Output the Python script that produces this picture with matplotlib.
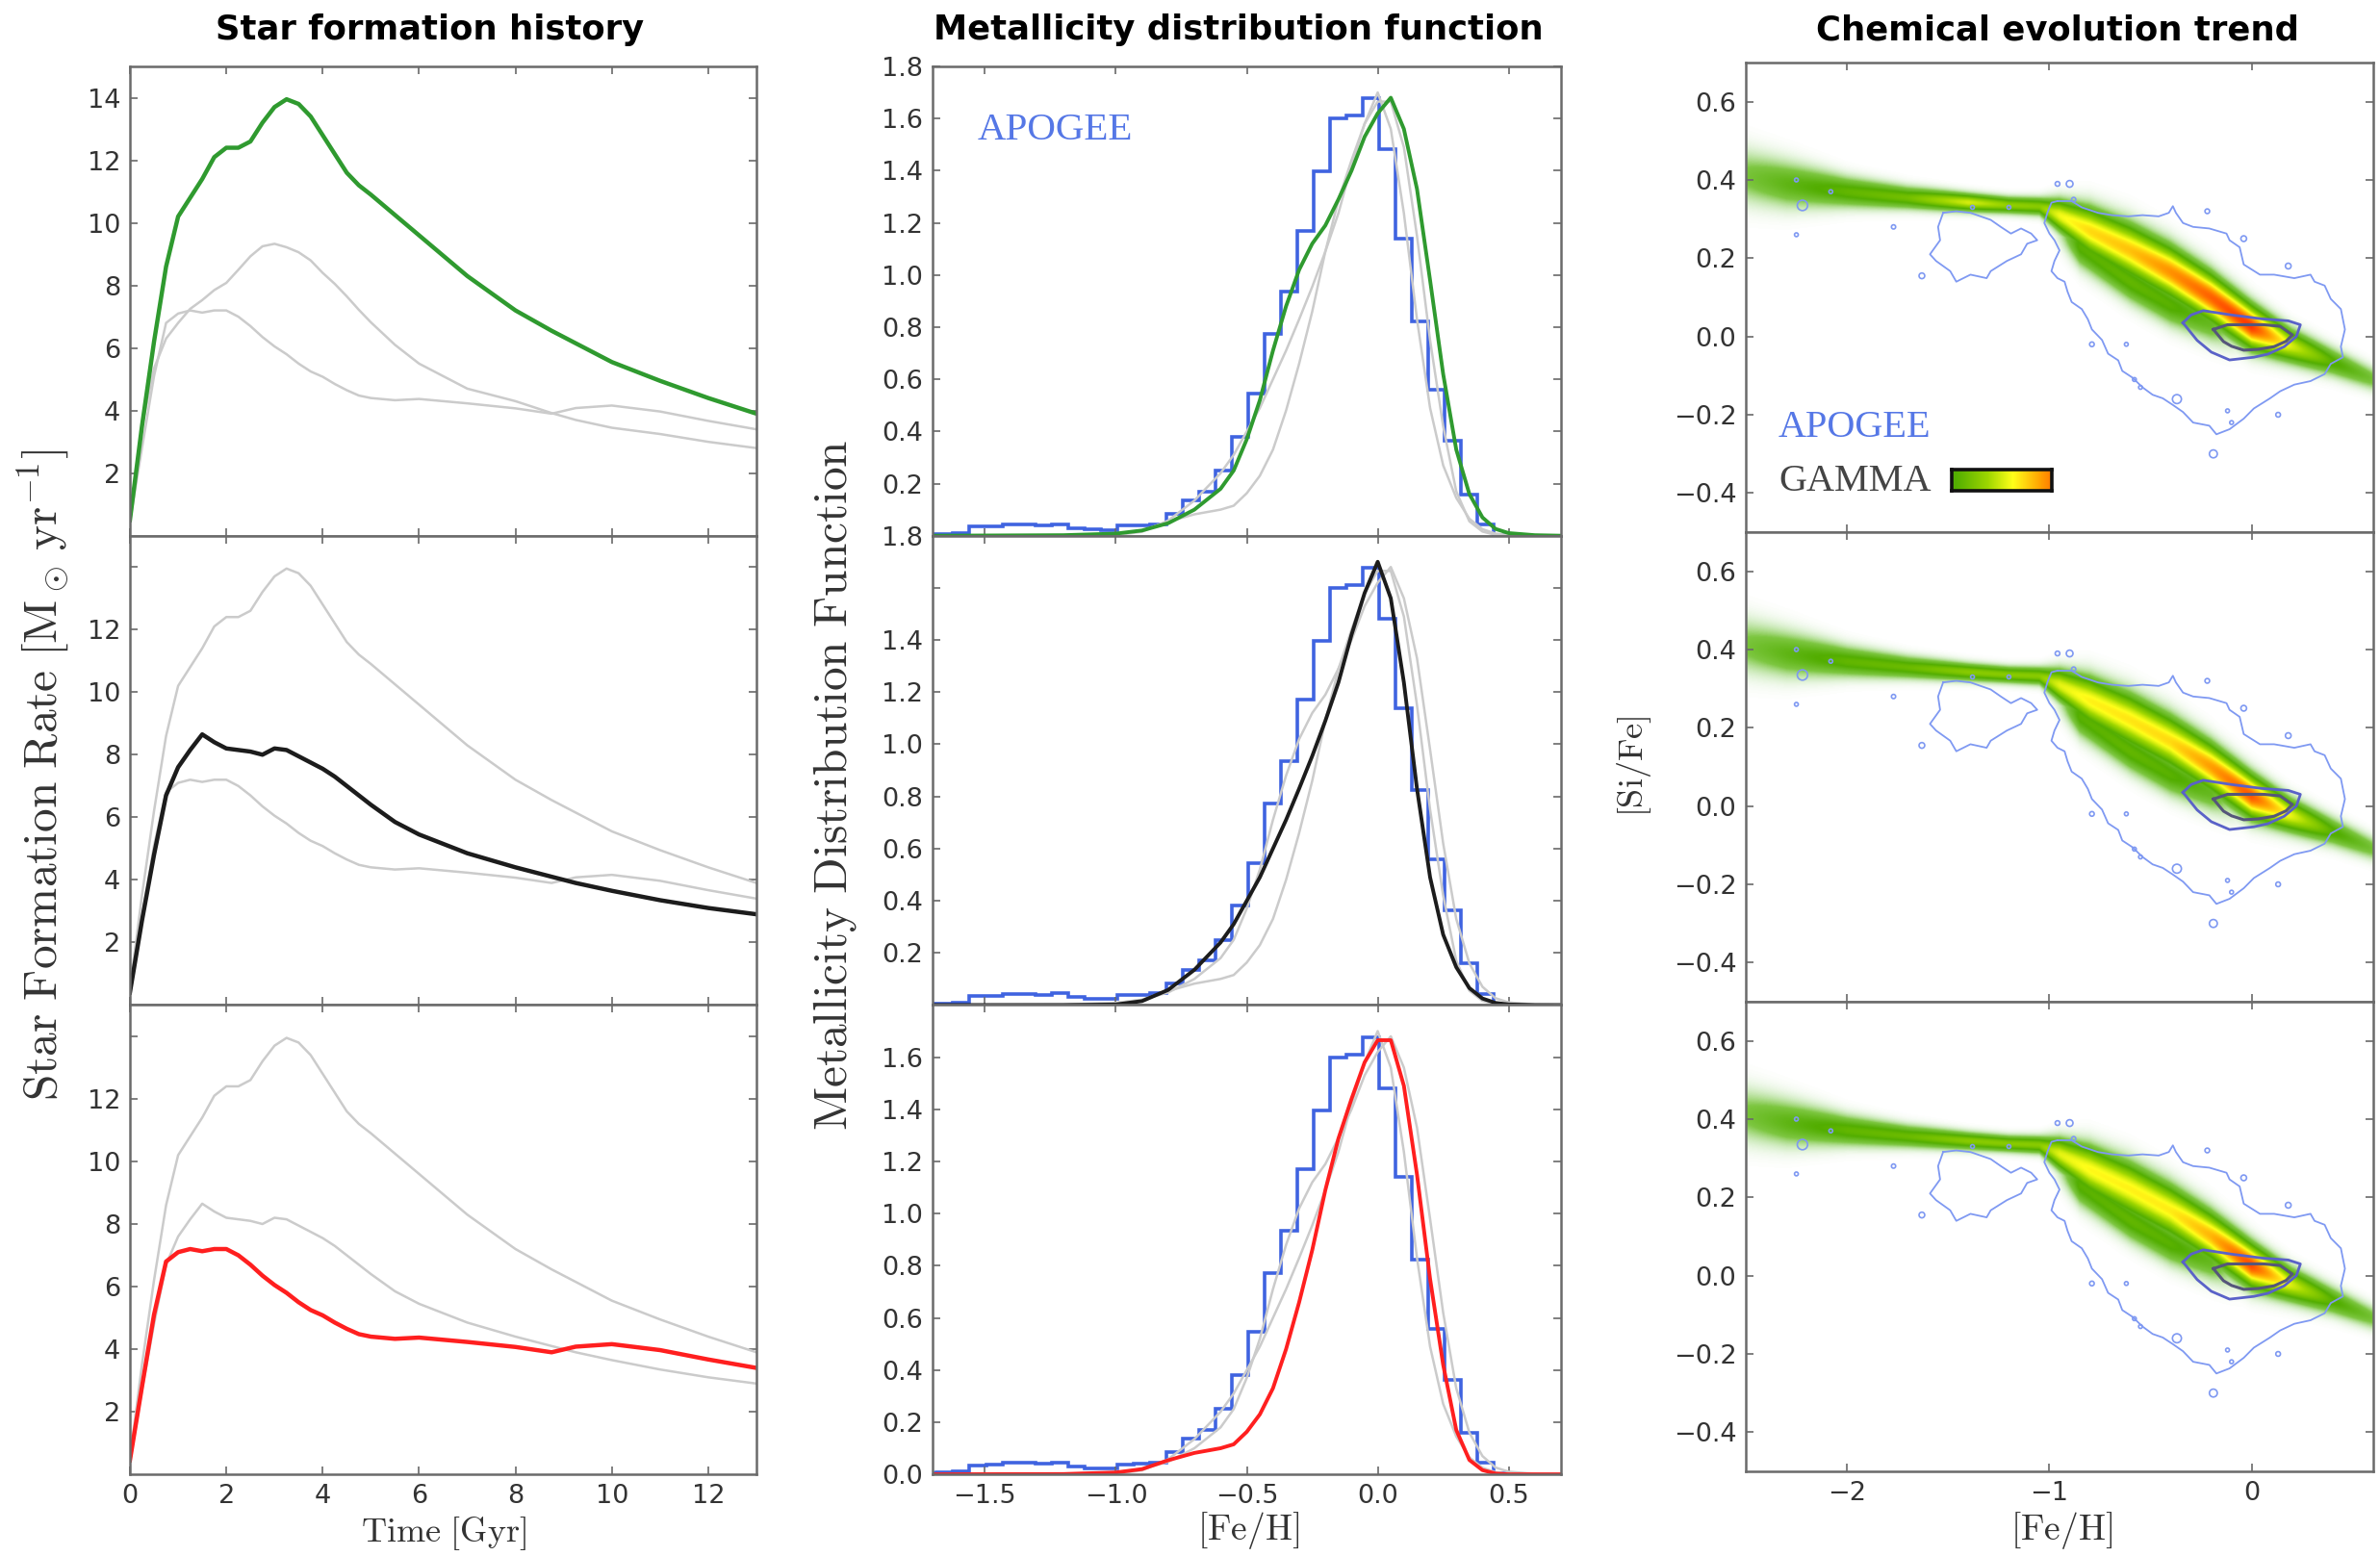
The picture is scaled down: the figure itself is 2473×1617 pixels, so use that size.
import numpy as np
import matplotlib
matplotlib.use("Agg")
import matplotlib.pyplot as plt
from matplotlib.colors import LinearSegmentedColormap

plt.rcParams["mathtext.fontset"] = "cm"
plt.rcParams["font.family"] = ["DejaVu Sans"]
plt.rcParams["axes.unicode_minus"] = True

# ---------------- Star formation history ----------------
sfh_time = [0, 0.25, 0.5, 0.75, 1.0, 1.25, 1.5, 1.75, 2.0, 2.25, 2.5, 2.75, 3.0, 3.25,
            3.5, 3.75, 4.0, 4.25, 4.5, 4.75, 5.0, 5.5, 6.0, 7.0, 8.0, 8.75, 9.25, 10.0, 11.0,
            12.0, 13.0]
sfh_green = [0.5, 3.5, 6.2, 8.6, 10.2, 10.8, 11.4, 12.1, 12.4, 12.4, 12.6, 13.2, 13.7, 13.95,
             13.8, 13.4, 12.8, 12.2, 11.6, 11.2, 10.9, 10.25, 9.6, 8.3, 7.2, 6.55, 6.15, 5.55,
             4.95, 4.4, 3.9]
sfh_black = [0.4, 2.7, 4.8, 6.7, 7.6, 8.15, 8.65, 8.4, 8.2, 8.15, 8.1, 8.0, 8.2, 8.15,
             7.95, 7.75, 7.55, 7.3, 7.0, 6.7, 6.4, 5.85, 5.45, 4.85, 4.4, 4.1, 3.9, 3.65, 3.35,
             3.1, 2.9]
sfh_red = [0.45, 2.8, 5.1, 6.8, 7.1, 7.2, 7.13, 7.2, 7.2, 7.0, 6.7, 6.35, 6.05, 5.8,
           5.5, 5.25, 5.08, 4.85, 4.65, 4.48, 4.4, 4.33, 4.37, 4.23, 4.07, 3.9, 4.08, 4.16,
           3.97, 3.67, 3.4]
sfh_alt = [0.5, 3.5, 5.35, 6.3, 6.8, 7.25, 7.53, 7.85, 8.08, 8.5, 8.93, 9.25, 9.33, 9.22,
           9.06, 8.8, 8.4, 8.05, 7.65, 7.22, 6.82, 6.1, 5.5, 4.7, 4.3, 3.92, 3.7, 3.45, 3.25,
           3.0, 2.8]
sfh_xticks = [0, 2, 4, 6, 8, 10, 12]
sfh_yticks = [2, 4, 6, 8, 10, 12, 14]

# ---------------- Metallicity distribution ----------------
mdf_feh = [-1.7, -1.2, -1.0, -0.9, -0.8, -0.7, -0.6, -0.55, -0.5, -0.45, -0.4, -0.35, -0.3,
           -0.25, -0.2, -0.15, -0.1, -0.05, 0.0, 0.05, 0.1, 0.15, 0.2, 0.25, 0.3, 0.35, 0.4,
           0.45, 0.5, 0.6, 0.7]
mdf_green = [0.0, 0.002, 0.008, 0.02, 0.048, 0.1, 0.18, 0.25, 0.37, 0.52, 0.71, 0.88, 1.02,
             1.12, 1.19, 1.29, 1.40, 1.53, 1.62, 1.68, 1.56, 1.33, 0.98, 0.62, 0.33, 0.16, 0.07,
             0.026, 0.01, 0.002, 0.0]
mdf_black = [0.0, 0.0, 0.002, 0.015, 0.058, 0.135, 0.24, 0.31, 0.40, 0.49, 0.60, 0.71, 0.83,
             0.955, 1.09, 1.237, 1.42, 1.58, 1.70, 1.56, 1.237, 0.83, 0.49, 0.27, 0.145, 0.065,
             0.025, 0.008, 0.002, 0.0, 0.0]
mdf_red = [0.0, 0.001, 0.007, 0.02, 0.054, 0.082, 0.10, 0.115, 0.163, 0.23, 0.33, 0.48, 0.66,
           0.86, 1.09, 1.288, 1.44, 1.58, 1.665, 1.665, 1.49, 1.15, 0.75, 0.42, 0.17, 0.055,
           0.016, 0.003, 0.0, 0.0, 0.0]
apogee_bin_start = -1.746
apogee_bin_width = 0.0625
apogee_mdf = [0.005, 0.007, 0.01, 0.034, 0.036, 0.043, 0.043, 0.040, 0.045, 0.030, 0.024, 0.022,
              0.038, 0.040, 0.045, 0.084, 0.136, 0.17, 0.25, 0.38, 0.545, 0.773, 0.935, 1.17,
              1.397, 1.60, 1.61, 1.677, 1.482, 1.139, 0.823, 0.559, 0.363, 0.159, 0.043, 0.003]
mdf_xticks = [-1.5, -1.0, -0.5, 0.0, 0.5]
mdf_yticks = [0.0, 0.2, 0.4, 0.6, 0.8, 1.0, 1.2, 1.4, 1.6, 1.8]

# ---------------- Chemical evolution trend ----------------
ridge_feh = [-2.6, -2.3, -2.0, -1.7, -1.4, -1.2, -1.05, -0.95, -0.8, -0.6, -0.4, -0.2, 0.0,
             0.2, 0.4, 0.65]
ridge_sife = [0.42, 0.39, 0.37, 0.355, 0.343, 0.336, 0.333, 0.31, 0.27, 0.22, 0.165, 0.10,
              0.025, -0.025, -0.065, -0.12]
ridge_sigma = [0.05, 0.04, 0.026, 0.019, 0.015, 0.014, 0.015, 0.027, 0.04, 0.044, 0.043, 0.04,
               0.036, 0.028, 0.024, 0.02]
gamma_amp = [
    [0.16, 0.28, 0.36, 0.4, 0.58, 0.47, 0.45, 0.62, 0.7, 0.74, 0.82, 0.9, 0.97, 0.58, 0.34, 0.18],
    [0.16, 0.28, 0.36, 0.38, 0.45, 0.45, 0.45, 0.6, 0.66, 0.68, 0.7, 0.8, 0.92, 0.6, 0.34, 0.18],
    [0.16, 0.28, 0.36, 0.38, 0.45, 0.45, 0.45, 0.6, 0.65, 0.66, 0.67, 0.76, 0.94, 0.58, 0.34, 0.18],
]
lower_feh = [-1.0, -0.85, -0.6, -0.4, -0.2, 0.0]
lower_sife = [0.31, 0.23, 0.14, 0.08, 0.035, -0.01]
lower_amp = [0.0, 0.34, 0.36, 0.34, 0.26, 0.0]
lower_sigma = 0.034

apogee_outer_feh = [-0.96, -0.89, -0.84, -0.76, -0.69, -0.61, -0.54, -0.46, -0.41, -0.39, -0.375,
                    -0.34, -0.29, -0.21, -0.125, -0.11, -0.06, -0.04, 0.04, 0.11, 0.21, 0.29, 0.31,
                    0.36, 0.39, 0.44, 0.46, 0.44, 0.45, 0.39, 0.36, 0.29, 0.21, 0.14, 0.09, 0.01,
                    -0.04, -0.11, -0.175, -0.21, -0.29, -0.34, -0.39, -0.44, -0.49, -0.54, -0.59,
                    -0.64, -0.66, -0.71, -0.74, -0.79, -0.81, -0.84, -0.89, -0.91, -0.925, -0.96,
                    -0.99, -0.975, -0.95, -0.975, -1.0, -1.025, -1.01, -0.99, -0.96]
apogee_outer_sife = [0.346, 0.346, 0.33, 0.316, 0.31, 0.307, 0.31, 0.307, 0.316, 0.333, 0.316,
                     0.29, 0.28, 0.276, 0.263, 0.246, 0.228, 0.184, 0.158, 0.158, 0.149, 0.158,
                     0.14, 0.13, 0.096, 0.07, 0.018, -0.026, -0.053, -0.07, -0.096, -0.114, -0.123,
                     -0.14, -0.158, -0.184, -0.21, -0.237, -0.25, -0.228, -0.22, -0.193, -0.175,
                     -0.158, -0.149, -0.13, -0.105, -0.088, -0.061, -0.044, -0.009, 0.018, 0.044,
                     0.07, 0.088, 0.114, 0.14, 0.149, 0.167, 0.193, 0.22, 0.246, 0.263, 0.29,
                     0.316, 0.342, 0.346]
apogee_lobe_feh = [-1.525, -1.55, -1.54, -1.59, -1.56, -1.49, -1.46, -1.39, -1.31, -1.29, -1.21,
                   -1.14, -1.11, -1.06, -1.09, -1.14, -1.19, -1.24, -1.29, -1.34, -1.39, -1.46,
                   -1.525]
apogee_lobe_sife = [0.316, 0.28, 0.246, 0.21, 0.193, 0.167, 0.14, 0.158, 0.149, 0.167, 0.193,
                    0.21, 0.237, 0.246, 0.263, 0.276, 0.263, 0.28, 0.298, 0.307, 0.316, 0.32,
                    0.316]
apogee_core1_feh = [-0.34, -0.3, -0.24, -0.1, 0.05, 0.18, 0.24, 0.22, 0.16, 0.08, 0.01, -0.11,
                    -0.2, -0.27, -0.34]
apogee_core1_sife = [0.035, 0.055, 0.066, 0.055, 0.045, 0.04, 0.03, 0.0, -0.026, -0.045, -0.053,
                     -0.06, -0.04, -0.01, 0.035]
apogee_core2_feh = [-0.19, -0.12, -0.04, 0.06, 0.14, 0.2, 0.17, 0.11, 0.03, -0.04, -0.1, -0.14,
                    -0.19]
apogee_core2_sife = [0.018, 0.03, 0.03, 0.03, 0.026, 0.004, -0.012, -0.026, -0.033, -0.035,
                     -0.025, -0.013, 0.018]
apogee_blob_feh = [-2.25, -2.08, -2.22, -2.25, -1.77, -1.63, -0.79, -0.62, -0.58, -0.55, -0.37,
                   -0.19, -0.12, -0.1, 0.13, 0.18, -0.04, -0.22, -0.96, -0.9, -0.88, -1.38, -1.2]
apogee_blob_sife = [0.40, 0.37, 0.335, 0.26, 0.28, 0.155, -0.02, -0.02, -0.11, -0.13, -0.16,
                    -0.30, -0.19, -0.22, -0.2, 0.18, 0.25, 0.32, 0.39, 0.39, 0.35, 0.33, 0.33]
apogee_blob_size = [8, 8, 60, 8, 10, 18, 12, 8, 8, 8, 45, 35, 8, 8, 12, 18, 18, 12, 12, 25, 10,
                    8, 8]
chem_xticks = [-2, -1, 0]
chem_yticks = [-0.4, -0.2, 0.0, 0.2, 0.4, 0.6]

# ---------------- Figure ----------------
W, H = 2473, 1617
fig = plt.figure(figsize=(W / 100, H / 100), dpi=100)

col_x = [135, 969, 1814]
col_w = [651, 653, 652]
row_top = [69, 69, 65]
row_h = [487.7, 487.7, 488.0]


def add_ax(col, row):
    x0 = col_x[col] / W
    w = col_w[col] / W
    top = row_top[col] + row * row_h[col]
    y0 = 1 - (top + row_h[col]) / H
    return fig.add_axes([x0, y0, w, row_h[col] / H])


def style(ax):
    for s in ax.spines.values():
        s.set_color("#6a6a6a")
        s.set_linewidth(1.8)
    ax.tick_params(direction="in", top=True, right=True, length=6, width=1.2,
                   color="#6a6a6a", labelsize=19.5, labelcolor="#333333", pad=7)


def fmt(v, nd):
    s = f"{v:.{nd}f}"
    return s.replace("-", "\u2212")


GRAY = "#cbcbcb"
main_colors = ["#2f9a2f", "#1c1c1c", "#ff1f1f"]

# Left column
sfh_main = [sfh_green, sfh_black, sfh_red]
sfh_gray = [[sfh_red, sfh_alt], [sfh_green, sfh_red], [sfh_green, sfh_black]]
for r in range(3):
    ax = add_ax(0, r)
    style(ax)
    for g in sfh_gray[r]:
        ax.plot(sfh_time, g, color=GRAY, lw=1.8)
    ax.plot(sfh_time, sfh_main[r], color=main_colors[r], lw=3.2)
    ax.set_xlim(0, 13)
    ax.set_ylim(0, 15)
    ax.set_xticks(sfh_xticks)
    ax.set_yticks(sfh_yticks)
    labs = [str(v) for v in sfh_yticks]
    if r > 0:
        labs[-1] = ""
    ax.set_yticklabels(labs)
    if r < 2:
        ax.set_xticklabels([])

# Middle column
mdf_main = [mdf_green, mdf_black, mdf_red]
mdf_gray = [[mdf_black, mdf_red], [mdf_green, mdf_red], [mdf_green, mdf_black]]
edges = [apogee_bin_start + i * apogee_bin_width for i in range(len(apogee_mdf) + 1)]
for r in range(3):
    ax = add_ax(1, r)
    style(ax)
    for g in mdf_gray[r]:
        ax.plot(mdf_feh, g, color=GRAY, lw=1.8)
    ax.stairs(apogee_mdf, edges, color="#3f63e0", lw=2.6, baseline=None)
    ax.plot(mdf_feh, mdf_main[r], color=main_colors[r], lw=2.8)
    ax.set_xlim(-1.7, 0.7)
    ax.set_ylim(0, 1.8)
    ax.set_xticks(mdf_xticks)
    ax.set_yticks(mdf_yticks)
    labs = [fmt(v, 1) for v in mdf_yticks]
    if r == 0:
        labs[0] = ""
    elif r == 1:
        labs[0] = ""
        labs[-2] = ""
    else:
        labs[-1] = ""
    ax.set_yticklabels(labs)
    if r < 2:
        ax.set_xticklabels([])
    else:
        ax.set_xticklabels([fmt(v, 1) for v in mdf_xticks])
    if r == 0:
        ax.text(0.072, 0.863, "APOGEE", transform=ax.transAxes, color="#5577e6",
                family="Liberation Serif", fontsize=29.5, va="center", ha="left")

# Right column
cmap = LinearSegmentedColormap.from_list("gamma", [
    (0.00, (0.62, 0.85, 0.50, 0.0)),
    (0.06, (0.55, 0.82, 0.40, 0.30)),
    (0.18, (0.40, 0.74, 0.12, 0.85)),
    (0.32, (0.32, 0.68, 0.00, 1.0)),
    (0.50, (0.62, 0.84, 0.00, 1.0)),
    (0.64, (1.00, 1.00, 0.10, 1.0)),
    (0.80, (1.00, 0.62, 0.00, 1.0)),
    (1.00, (1.00, 0.15, 0.00, 1.0)),
])
gx = np.linspace(-2.5, 0.6, 640)
gy = np.linspace(-0.5, 0.7, 520)
GY = gy[:, None]
yc = np.interp(gx, ridge_feh, ridge_sife)
sg = np.interp(gx, ridge_feh, ridge_sigma)
yc2 = np.interp(gx, lower_feh, lower_sife)
a2 = np.interp(gx, lower_feh, lower_amp, left=0.0, right=0.0)
D2 = a2[None, :] * np.exp(-0.5 * ((GY - yc2[None, :]) / lower_sigma) ** 2)

for r in range(3):
    ax = add_ax(2, r)
    style(ax)
    a = np.interp(gx, ridge_feh, gamma_amp[r])
    D = a[None, :] * np.exp(-0.5 * ((GY - yc[None, :]) / sg[None, :]) ** 2)
    D = np.maximum(D, D2)
    ax.imshow(D, extent=[gx[0], gx[-1], gy[0], gy[-1]], origin="lower", aspect="auto",
              cmap=cmap, vmin=0, vmax=1, interpolation="bilinear", zorder=1)
    ax.plot(apogee_outer_feh, apogee_outer_sife, color="#7f99f2", lw=1.3, zorder=3)
    ax.plot(apogee_lobe_feh, apogee_lobe_sife, color="#7f99f2", lw=1.3, zorder=3)
    ax.scatter(apogee_blob_feh, apogee_blob_sife, s=apogee_blob_size, facecolors="none",
               edgecolors="#7f99f2", linewidths=1.2, zorder=3)
    ax.plot(apogee_core1_feh, apogee_core1_sife, color="#5a62c8", lw=2.0, zorder=4)
    ax.plot(apogee_core2_feh, apogee_core2_sife, color="#55567a", lw=2.2, zorder=4)
    ax.set_xlim(-2.5, 0.6)
    ax.set_ylim(-0.5, 0.7)
    ax.set_xticks(chem_xticks)
    ax.set_yticks(chem_yticks)
    ax.set_yticklabels([fmt(v, 1) for v in chem_yticks])
    if r < 2:
        ax.set_xticklabels([])
    else:
        ax.set_xticklabels([fmt(v, 0) for v in chem_xticks])
    if r == 0:
        ax.text(0.052, 0.223, "APOGEE", transform=ax.transAxes, color="#5577e6",
                family="Liberation Serif", fontsize=29, va="center", ha="left")
        ax.text(0.052, 0.107, "GAMMA", transform=ax.transAxes, color="#444444",
                family="Liberation Serif", fontsize=29, va="center", ha="left")
        cax = ax.inset_axes([0.328, 0.088, 0.16, 0.045])
        cax.imshow(np.linspace(0.3, 0.86, 200)[None, :], aspect="auto", cmap=cmap,
                   vmin=0, vmax=1)
        cax.set_xticks([])
        cax.set_yticks([])
        for s in cax.spines.values():
            s.set_color("#111111")
            s.set_linewidth(2.6)

# Titles and axis labels
fig.text(447 / W, 1 - 31 / H, "Star formation history", ha="center", va="center",
         fontsize=25.5, fontweight="bold")
fig.text(1287 / W, 1 - 31 / H, "Metallicity distribution function", ha="center",
         va="center", fontsize=25.5, fontweight="bold")
fig.text(2138 / W, 1 - 31 / H, "Chemical evolution trend", ha="center", va="center",
         fontsize=25.5, fontweight="bold")

fig.text(45 / W, 1 - 805 / H, r"$\mathrm{Star\ Formation\ Rate}\ [\mathrm{M}_\odot\,\mathrm{yr}^{-1}]$",
         rotation=90, ha="center", va="center", fontsize=35.5, color="#333333")
fig.text(868 / W, 1 - 816 / H, r"$\mathrm{Metallicity\ Distribution\ Function}$",
         rotation=90, ha="center", va="center", fontsize=35.5, color="#333333")
fig.text(1698 / W, 1 - 796 / H, r"$[\mathrm{Si/Fe}]$", rotation=90, ha="center",
         va="center", fontsize=26, color="#333333")
fig.text(461 / W, 1 - 1593 / H, r"$\mathrm{Time\ [Gyr]}$", ha="center", va="center",
         fontsize=26, color="#333333")
fig.text(1297 / W, 1 - 1590 / H, r"$[\mathrm{Fe/H}]$", ha="center", va="center",
         fontsize=27, color="#333333")
fig.text(2142 / W, 1 - 1590 / H, r"$[\mathrm{Fe/H}]$", ha="center", va="center",
         fontsize=27, color="#333333")

fig.savefig("out.png", dpi=100, facecolor="white")
